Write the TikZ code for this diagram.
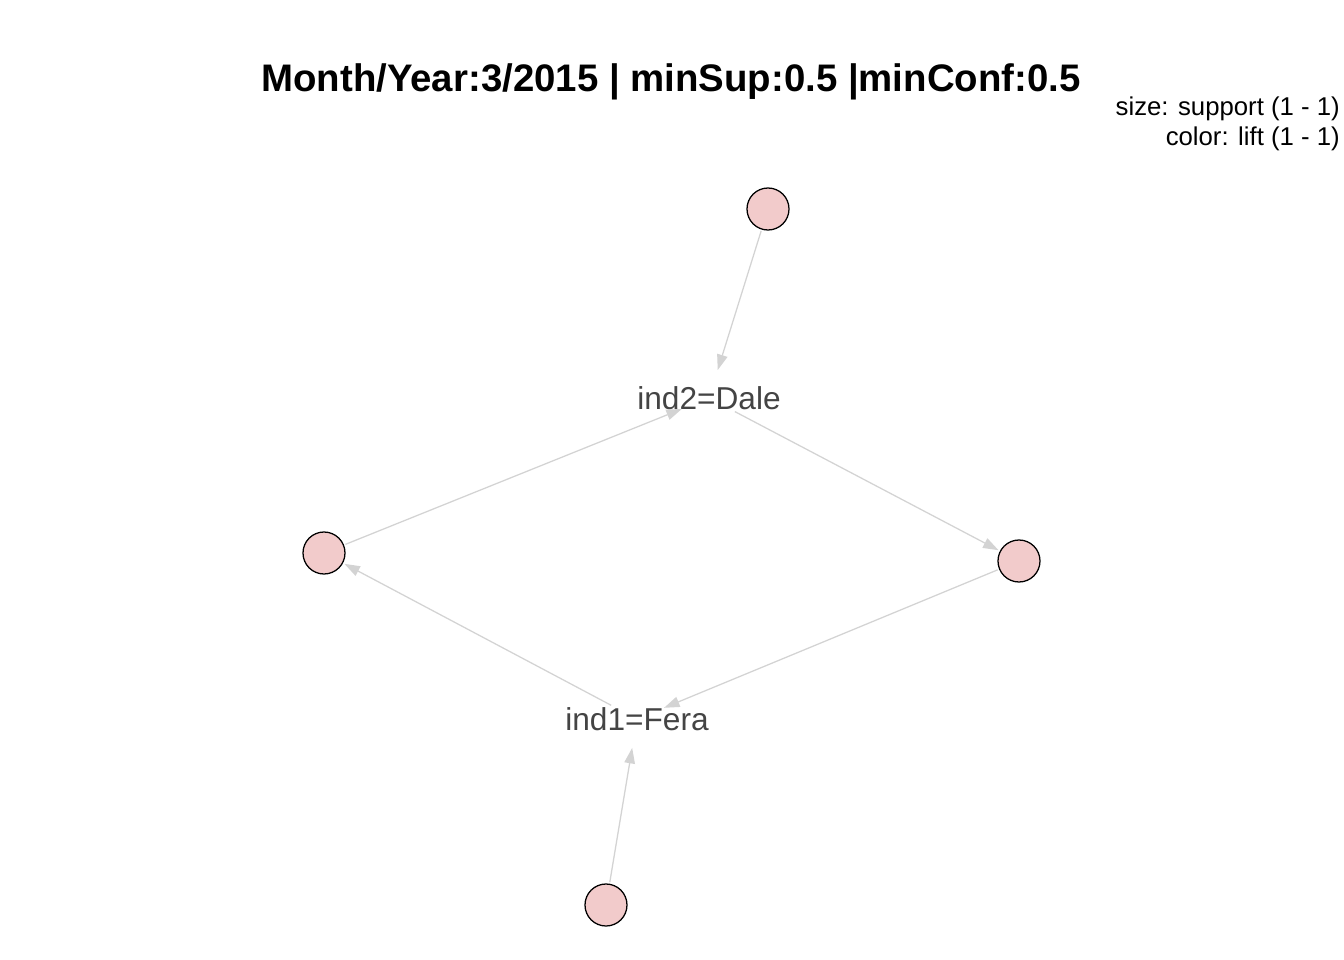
\documentclass[tikz,border=0pt]{standalone}
\usepackage{fontspec}
\setmainfont{Liberation Sans}
\usetikzlibrary{arrows.meta}
\definecolor{vfill}{RGB}{242,203,203}
\definecolor{edge}{RGB}{211,211,211}
\definecolor{lab}{RGB}{68,68,68}

\begin{document}
\begin{tikzpicture}[
        x=0.025cm,
        y=-0.025cm,
        v/.style={circle, draw, fill=vfill, line width=0.9pt, minimum size=1.05cm, inner sep=0pt, outer sep=1.5pt},
        item/.style={circle, minimum size=1.45cm, inner sep=0pt},
        itemtext/.style={text=lab, font=\fontsize{22.5pt}{26pt}\selectfont},
        rule/.style={->, >={Triangle[length=11pt,width=7.5pt,fill=edge]}, line width=0.9pt, edge},
        ]
        \useasboundingbox (0,0) rectangle (1344,960);

        \node(title) at (671,82) {\fontsize{27.3pt}{32pt}\selectfont\bfseries Month/Year:3/2015 | minSup:0.5 |minConf:0.5};
        \node(legend)[anchor=north east, align=right, inner sep=0pt, font=\fontsize{18.3pt}{21.3pt}\selectfont] at (1340,97)
          {size: support (1 - 1)\\color: lift (1 - 1)};

        \node(dale)[item, label={[itemtext]center:ind2=Dale}] at (709,398) {};
        \node(fera)[item, label={[itemtext]center:ind1=Fera}] at (637,719) {};

        \node(r1)[v] at (768,209) {};
        \node(r2)[v] at (324,553) {};
        \node(r3)[v] at (1019,561) {};
        \node(r4)[v] at (606,905) {};

        \draw[rule] (r1) -- (dale);
        \draw[rule] (r2) -- (dale);
        \draw[rule] (dale) -- (r3);
        \draw[rule] (r3) -- (fera);
        \draw[rule] (fera) -- (r2);
        \draw[rule] (r4) -- (fera);

      \end{tikzpicture}
\end{document}
